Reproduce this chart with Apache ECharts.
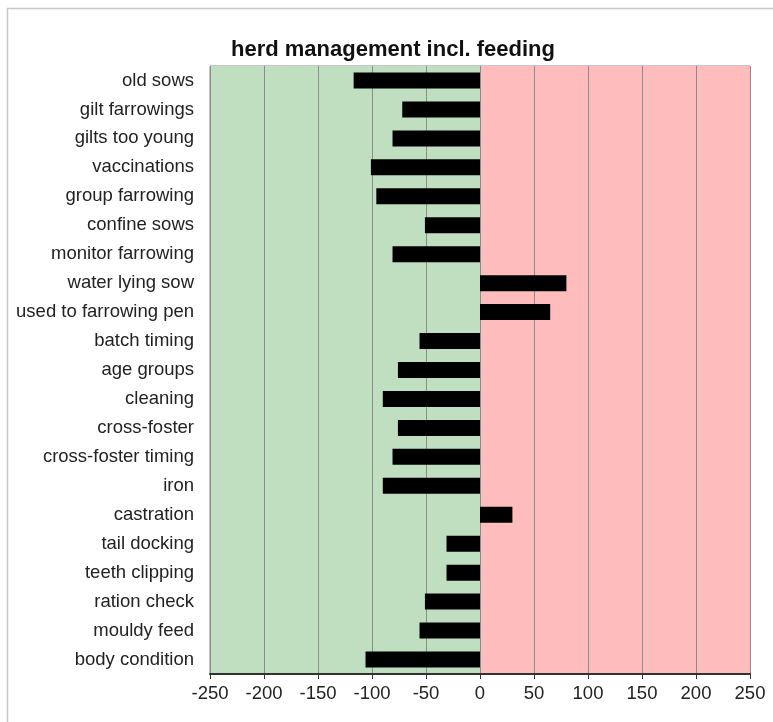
<!DOCTYPE html>
<html>
<head>
<meta charset="utf-8">
<script src="https://cdn.jsdelivr.net/npm/echarts@6/dist/echarts.min.js"></script>
<style>
    html, body { margin: 0; padding: 0; background: #fff; }
    #chart { width: 773px; height: 722px; }
</style>
</head>
<body>
<div id="chart"></div>
<script>
// categories top -> bottom
var categories = [
    'old sows', 'gilt farrowings', 'gilts too young', 'vaccinations',
    'group farrowing', 'confine sows', 'monitor farrowing', 'water lying sow',
    'used to farrowing pen', 'batch timing', 'age groups', 'cleaning',
    'cross-foster', 'cross-foster timing', 'iron', 'castration',
    'tail docking', 'teeth clipping', 'ration check', 'mouldy feed',
    'body condition'
];
var scores = [
    -117, -72, -81, -101,
    -96, -51, -81, 80,
    65, -56, -76, -90,
    -76, -81, -90, 30,
    -31, -31, -51, -56,
    -106
];
var chartTitle = 'herd management incl. feeding';

var mychart = echarts.init(document.getElementById('chart'));

var font = 'Liberation Sans, Arial, sans-serif';

var option = {
    animation: false,
    backgroundColor: '#fff',
    title: {
        text: chartTitle,
        left: 226,
        top: 34,
        textStyle: {
            fontFamily: font,
            fontSize: 22,
            fontWeight: 'bold',
            color: '#111'
        }
    },
    // light frame around the whole picture
    graphic: [{
        type: 'rect',
        shape: {x: 7.5, y: 8.5, width: 780, height: 730},
        style: {fill: 'none', stroke: '#c8c8c8', lineWidth: 1.5},
        silent: true
    }],
    grid: {
        left: 210,
        right: 23,
        top: 66,
        bottom: 48,
        show: true,
        borderColor: '#8c8c8c',
        borderWidth: 1
    },
    xAxis: {
        type: 'value',
        min: -250,
        max: 250,
        interval: 50,
        axisLine: {show: true, onZero: false, lineStyle: {color: '#333', width: 2}},
        axisTick: {show: true, length: 5, lineStyle: {color: '#333'}},
        axisLabel: {
            fontFamily: font,
            fontSize: 18.5,
            color: '#222',
            margin: 10
        },
        splitLine: {show: true, lineStyle: {color: '#8c8c8c', width: 1}},
        splitArea: {
            show: true,
            areaStyle: {
                color: ['#c0dfc0', '#c0dfc0', '#c0dfc0', '#c0dfc0', '#c0dfc0',
                        '#ffbcbc', '#ffbcbc', '#ffbcbc', '#ffbcbc', '#ffbcbc']
            }
        }
    },
    yAxis: {
        type: 'category',
        data: categories,
        inverse: true,
        axisLine: {show: false, onZero: false},
        axisTick: {show: false},
        splitLine: {show: false},
        axisLabel: {
            fontFamily: font,
            fontSize: 18.5,
            color: '#222',
            margin: 16
        }
    },
    series: [{
        name: 'score',
        type: 'bar',
        data: scores,
        barWidth: 16,
        itemStyle: {color: '#000'}
    }]
};

mychart.setOption(option);
</script>
</body>
</html>
